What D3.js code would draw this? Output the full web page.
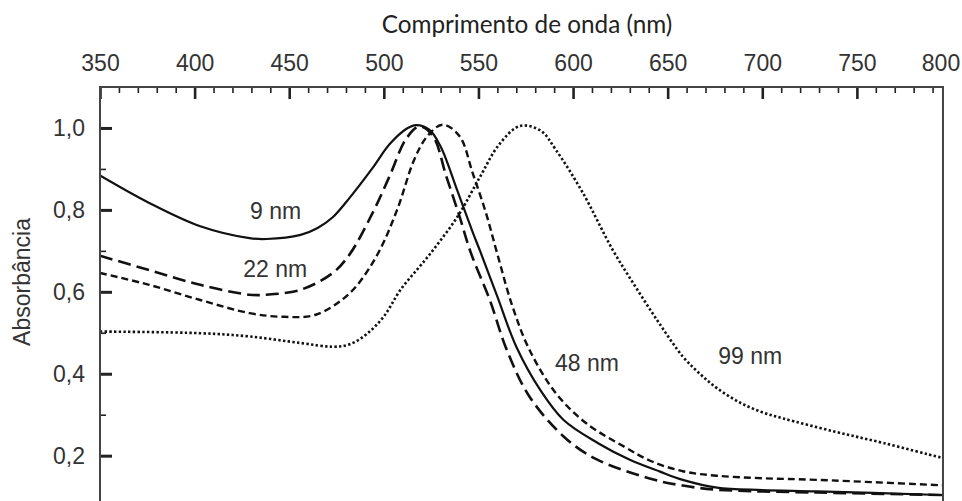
<!DOCTYPE html>
<html>
<head>
<meta charset="utf-8">
<script src="https://cdn.jsdelivr.net/npm/d3@7"></script>
<style>
  body { margin: 0; background: #fff; }
  svg { display: block; }
</style>
</head>
<body>
<svg id="chart" width="962" height="501"></svg>
<script>
// Tick values
const wavelengthTicks = d3.range(350, 801, 50);
const minorWavelengthTicks = d3.range(360, 795, 10).filter(d => d % 50 !== 0);
const absTicks = [0.2, 0.4, 0.6, 0.8, 1.0];
const minorAbsTicks = [0.3, 0.5, 0.7, 0.9];

// Curves: [wavelength nm, absorbance]
const curve9nm = [
  [350, 0.884], [376, 0.817], [403, 0.760], [429, 0.731], [438, 0.729],
  [456, 0.739], [465, 0.756], [473, 0.782], [482, 0.830], [494, 0.902],
  [503, 0.960], [512, 0.998], [517, 1.007], [524, 0.996], [530, 0.955],
  [539, 0.845], [547, 0.745], [551, 0.698], [560, 0.588], [570, 0.466],
  [583, 0.358], [595, 0.287], [613, 0.231], [630, 0.190], [646, 0.161],
  [658, 0.141], [676, 0.122], [700, 0.116], [729, 0.113], [794, 0.104],
  [800, 0.103]
];
const curve22nm = [
  [350, 0.688], [376, 0.653], [403, 0.617], [429, 0.593], [438, 0.593],
  [456, 0.605], [473, 0.646], [482, 0.692], [494, 0.792], [503, 0.882],
  [512, 0.975], [519, 1.004], [526, 0.980], [533, 0.882], [540, 0.784],
  [546, 0.695], [556, 0.580], [565, 0.458], [577, 0.344], [595, 0.247],
  [612, 0.192], [643, 0.141], [658, 0.127], [676, 0.117], [729, 0.110],
  [794, 0.104], [800, 0.103]
];
const curve48nm = [
  [350, 0.646], [376, 0.617], [403, 0.580], [429, 0.548], [447, 0.539],
  [464, 0.544], [482, 0.597], [496, 0.686], [507, 0.800], [516, 0.922],
  [523, 0.980], [531, 1.008], [540, 0.980], [547, 0.889], [554, 0.792],
  [560, 0.692], [568, 0.564], [577, 0.458], [591, 0.352], [607, 0.279],
  [627, 0.222], [641, 0.187], [658, 0.162], [676, 0.151], [700, 0.145],
  [729, 0.141], [794, 0.128], [800, 0.127]
];
const curve99nm = [
  [350, 0.503], [403, 0.499], [429, 0.491], [456, 0.475], [473, 0.466],
  [482, 0.472], [491, 0.497], [500, 0.540], [509, 0.606], [524, 0.690],
  [539, 0.784], [551, 0.882], [561, 0.960], [572, 1.005], [583, 0.993],
  [591, 0.946], [605, 0.843], [621, 0.702], [634, 0.605], [646, 0.520],
  [658, 0.442], [667, 0.400], [676, 0.365], [688, 0.330], [700, 0.306],
  [711, 0.291], [738, 0.259], [764, 0.231], [794, 0.196], [800, 0.190]
];

// Curve labels anchored in data units (left edge, baseline)
const curveLabels = [
  { text: "9 nm", wl: 429.3, a: 0.777 },
  { text: "22 nm", wl: 425.7, a: 0.635 },
  { text: "48 nm", wl: 590.5, a: 0.407 },
  { text: "99 nm", wl: 676.7, a: 0.425 }
];

const series = [
  { data: curve9nm, width: 2.2, dash: null },
  { data: curve22nm, width: 2.6, dash: "13,6" },
  { data: curve48nm, width: 2.4, dash: "7,4" },
  { data: curve99nm, width: 2.6, dash: "2.4,2.3" }
];

const svg = d3.select("#chart");
const frameRightWl = 795.5;

const x = d3.scaleLinear().domain([350, 800]).range([100, 951.5]);
const y = d3.scaleLinear().domain([0, 1.1]).range([537.6, 87]);

const pt = d3.formatLocale({ decimal: ",", thousands: ".", grouping: [3], currency: ["", ""] });
const fmt = pt.format(".1f");

const plotLeft = x(350), plotRight = x(frameRightWl), plotTop = y(1.1), plotBottom = y(0);

svg.append("clipPath").attr("id", "plotClip")
  .append("rect")
  .attr("x", plotLeft).attr("y", plotTop)
  .attr("width", plotRight - plotLeft).attr("height", plotBottom - plotTop);

// curves
const line = d3.line()
  .x(d => x(d[0]))
  .y(d => y(d[1]))
  .curve(d3.curveCatmullRom.alpha(0.5));

svg.append("g").attr("clip-path", "url(#plotClip)")
  .selectAll("path")
  .data(series)
  .enter().append("path")
  .attr("d", s => line(s.data))
  .attr("fill", "none")
  .attr("stroke", "#111")
  .attr("stroke-width", s => s.width)
  .attr("stroke-dasharray", s => s.dash);

// top axis
const topAxis = svg.append("g")
  .attr("transform", `translate(0,${plotTop})`)
  .call(d3.axisTop(x).tickValues(wavelengthTicks).tickSize(-12).tickPadding(16.5));
topAxis.selectAll(".tick line").attr("stroke", "#222").attr("stroke-width", 2.6);
topAxis.selectAll(".tick")
  .filter(d => d > frameRightWl).select("line").remove();
topAxis.selectAll(".tick text")
  .attr("font-family", "'Liberation Sans', Arial, sans-serif")
  .attr("font-size", 23)
  .attr("fill", "#333")
  .attr("dx", d => d === 800 ? -11 : 0);

const topMinor = svg.append("g")
  .attr("transform", `translate(0,${plotTop})`)
  .call(d3.axisTop(x).tickValues(minorWavelengthTicks).tickSize(-6).tickFormat(""));
topMinor.selectAll(".tick line").attr("stroke", "#222").attr("stroke-width", 1.6);

// left axis
const leftAxis = svg.append("g")
  .attr("transform", `translate(${plotLeft},0)`)
  .call(d3.axisLeft(y).tickValues(absTicks).tickSize(-12).tickPadding(15).tickFormat(fmt));
leftAxis.selectAll(".tick line").attr("stroke", "#222").attr("stroke-width", 3);
leftAxis.selectAll(".tick text")
  .attr("font-family", "'Liberation Sans', Arial, sans-serif")
  .attr("font-size", 23)
  .attr("fill", "#333");

const leftMinor = svg.append("g")
  .attr("transform", `translate(${plotLeft},0)`)
  .call(d3.axisLeft(y).tickValues(minorAbsTicks).tickSize(-6).tickFormat(""));
leftMinor.selectAll(".tick line").attr("stroke", "#222").attr("stroke-width", 1.6);

svg.selectAll(".domain").remove();

// frame (open at the bottom, which is cut off)
svg.append("path")
  .attr("d", `M${plotLeft},${plotBottom + 20}V${plotTop}H${plotRight}V${plotBottom + 20}`)
  .attr("fill", "none")
  .attr("stroke", "#444")
  .attr("stroke-width", 2);

// curve labels
svg.append("g")
  .selectAll("text")
  .data(curveLabels)
  .enter().append("text")
  .attr("x", d => x(d.wl))
  .attr("y", d => y(d.a))
  .attr("font-family", "'Liberation Sans', Arial, sans-serif")
  .attr("font-size", 23)
  .attr("fill", "#333")
  .text(d => d.text);

// axis titles
svg.append("text")
  .attr("x", 527)
  .attr("y", 33)
  .attr("text-anchor", "middle")
  .attr("font-family", "Lato, 'Open Sans', sans-serif")
  .attr("font-size", 24.3)
  .attr("fill", "#222")
  .text("Comprimento de onda (nm)");

svg.append("text")
  .attr("transform", "translate(30,282) rotate(-90)")
  .attr("text-anchor", "middle")
  .attr("font-family", "'Liberation Sans', Arial, sans-serif")
  .attr("font-size", 23)
  .attr("fill", "#333")
  .text("Absorbância");
</script>
</body>
</html>
